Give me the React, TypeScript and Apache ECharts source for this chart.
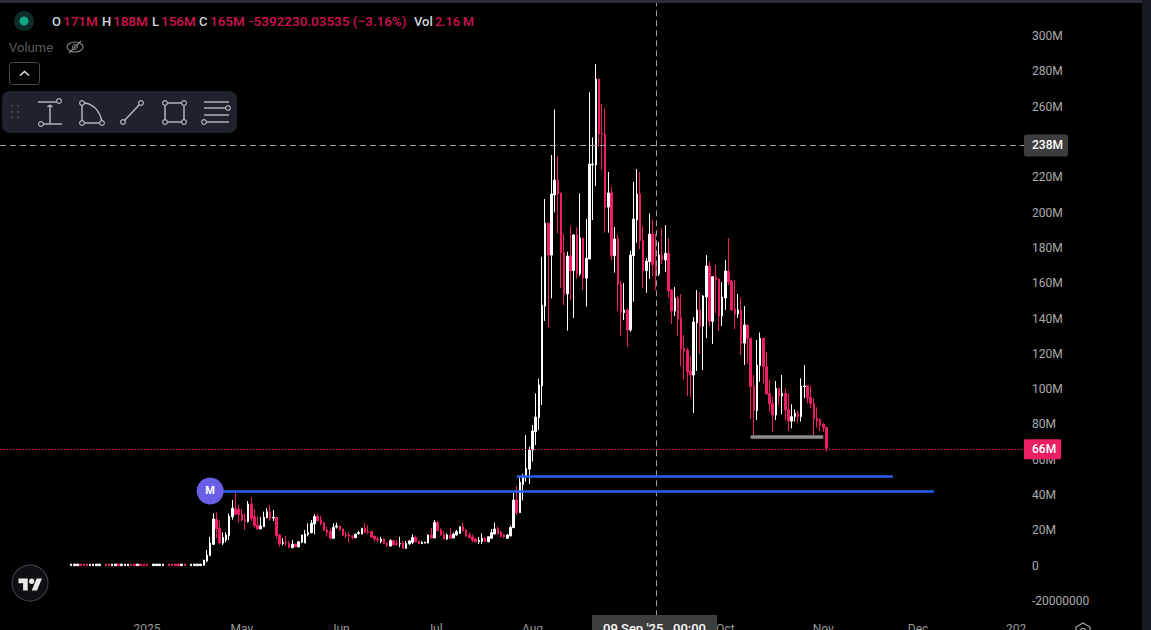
import React, { useEffect, useRef } from "react";
import * as echarts from "echarts";

echarts.graphic.registerShape(
  "tvlogo",
  echarts.graphic.extendPath("M14 25H7V14H0V7h14v18zM28 25h-8l7.5-18h8L28 25zM24 11a4 4 0 1 1-8 0 4 4 0 0 1 8 0z", {})
);

const startDate = Date.UTC(2025, 1, 14);
const dayCount = 324;
const categories: string[] = [];
for (let i = 0; i < dayCount; i++) {
  categories.push(new Date(startDate + i * 86400000).toISOString().slice(0, 10));
}

const tickLabels: Record<string, string> = {
  "2025-04-01": "2025",
  "2025-05-01": "May",
  "2025-06-01": "Jun",
  "2025-07-01": "Jul",
  "2025-08-01": "Aug",
  "2025-10-01": "Oct",
  "2025-11-01": "Nov",
  "2025-12-01": "Dec",
  "2026-01-01": "202",
};

const no = ["-", "-", "-", "-"];
const fu = [0, 0.9, 0, 0.9];
const fd = [0.9, 0, 0, 0.9];

// 22 empty days before trading opens
const leadDays = [no, no, no, no, no, no, no, no, no, no, no, no, no, no, no, no, no, no, no, no, no, no];

const flatCandles = [
  fu, fu, fu, fd, fd, fd, fu, fu, fu, fu, no, fd, fd, fu, fu, fd, fu, fu, fu, fd, fd, fu, fd, fd, fd, no, fu, fu, fu, fu,
  no, fd, fd, fd, fd, fu, fd, no, fu, fu, fu, fu,
];

// [open, close, low, high], millions
const earlyCandles = [
  [0.2, 3.2, 0, 3.2], [2.6, 6, 1.9, 8.9], [5.7, 12.8, 5.7, 16.4], [12.1, 26.4, 11.7, 29.6], [26.4, 20.8, 15.5, 30.2],
  [21.1, 12.8, 12.6, 25.6], [12.8, 16, 11.7, 18.9], [14.5, 17.4, 13.2, 18.9], [17, 28.1, 14.5, 29.6], [27.8, 32.5, 26.1, 37.2],
  [32.1, 29.1, 29.1, 41.1], [32, 29, 24.3, 34.5], [29.1, 25.9, 25.1, 32.1], [26.2, 25.3, 20.2, 29.6], [24.9, 34.9, 24.5, 36.6],
  [34.9, 26.8, 25.3, 38.7], [27.8, 22.7, 21.5, 32], [23, 20.8, 20.2, 27.8], [20.8, 22.5, 20.8, 27.6], [22.1, 27.4, 22.1, 30.6],
  [27.2, 30.6, 26.8, 32.5], [30.6, 26.8, 25.5, 34.2], [27, 27.4, 25.3, 31.5], [27.4, 17, 15.1, 27.4], [17.4, 12.3, 10.8, 17.8],
  [12.6, 13, 11.5, 15.5], [13.2, 12.8, 11.3, 16.8], [12.6, 10.4, 9.8, 14], [10.2, 12.1, 9.8, 14.5], [12.3, 10.8, 10.4, 12.3],
  [10.6, 13.6, 10.6, 13.9], [13.2, 17.4, 12.7, 17.4], [12.8, 17.9, 12.8, 20.2], [17.7, 18.7, 16.6, 24], [18.7, 24, 18.3, 25.9],
  [23.6, 27.8, 17.8, 29.1], [27.8, 25.3, 25.3, 29.4], [25.9, 24, 22.7, 28.3], [24.4, 20, 19.6, 24.4], [20.2, 18.9, 16.4, 22.1],
  [19.3, 15.5, 14.9, 21.1], [15.5, 21.7, 15.1, 24], [21.9, 22.5, 21, 24.4], [22.5, 20.4, 19.6, 22.5], [20.8, 17, 16.8, 21.1],
  [17.4, 16.8, 15.5, 19], [17.4, 16.8, 13.2, 19], [16.4, 15.9, 14.9, 17.4], [15.9, 17.9, 15.5, 17.9], [18.1, 18.7, 17.6, 19.8],
  [17.9, 21.1, 17.9, 21.5],
];

const summerCandles = [
  [21.1, 18.9, 18.3, 24], [19.3, 18.9, 17.9, 22.7], [19.3, 16.2, 16, 19.6], [16.8, 15.1, 13.6, 16.8], [15.1, 14.5, 13.2, 16.4],
  [13.6, 15.1, 12.7, 16.4], [15.1, 12.5, 12.1, 15.5], [12.6, 11.7, 10.6, 13.2], [11.1, 14.2, 11.1, 15.1], [14.2, 11.7, 11.7, 14.2],
  [12.6, 12.1, 11.3, 14.5], [12.3, 12.6, 10.4, 16.4], [13, 9.8, 9.8, 13.9], [9.8, 12.6, 9.8, 13.9], [12.5, 14, 11.7, 14.5],
  [13.2, 15.9, 12.3, 17.8], [15.9, 13.6, 13.2, 17], [14, 12.3, 12.3, 14], [12.5, 13.2, 12.3, 13.9], [12.8, 13.4, 12.7, 13.4],
  [12.8, 17.4, 12.7, 17.8], [17.4, 15.7, 15.5, 21.5], [15.7, 24.4, 15.7, 25.9], [24.4, 19.8, 19.6, 25.3], [20.2, 17.4, 17, 21.1],
  [17.7, 15.1, 15.1, 19.3], [15.1, 17.4, 14.5, 18.3], [17.4, 15.5, 15.5, 21.5], [15.7, 17.9, 15.5, 18.7], [17.4, 19.3, 17, 20.2],
  [18.3, 22.1, 17.9, 22.1], [22.1, 19.8, 19.3, 24.4], [20.2, 16.8, 16.4, 20.6], [17.4, 15.9, 15.5, 18.7], [16.2, 14.5, 13.2, 17.8],
  [15.1, 13.6, 13.2, 15.5], [13.6, 14.3, 12.3, 16.2], [13.8, 15.5, 12.3, 18.3], [15.5, 13.6, 13.2, 16.4], [13.6, 16.4, 13.2, 16.4],
  [15.5, 18.7, 15.5, 20.8], [17.9, 20.8, 17.9, 24.4], [21.1, 18.1, 17.6, 22.1], [19.1, 16.4, 16.2, 19.6], [17.4, 16.2, 15.5, 18],
  [15.5, 17.4, 15.1, 17.9], [16.8, 21.7, 16.8, 22.7], [21.5, 37.2, 21.5, 41.2],
];

const rallyCandles = [
  [37.2, 30, 28.7, 45.1], [30, 47.2, 30, 50], [46, 50, 37, 52], [50.4, 55.1, 47.6, 74], [54.7, 65.5, 46.2, 67.4],
  [65.5, 76.3, 58.9, 79.7], [75.9, 84.2, 68.3, 97.6], [83.8, 102.3, 76.8, 106], [101.8, 147.6, 91, 175], [147, 193.9, 138.6, 207.7],
  [193.9, 175.9, 134.8, 194.4], [175.9, 210.5, 151.4, 232.6], [210, 218.4, 200.1, 258.4], [218.4, 210.5, 188.2, 232],
  [210.9, 177.3, 157.3, 211.4], [177.3, 153.9, 147.6, 187.8], [153.9, 175.4, 133.1, 177.8], [175.4, 167.1, 150.5, 192.4],
  [167.1, 187.3, 140.3, 187.8], [187.3, 165.2, 162.5, 191.6], [165.2, 185.6, 164, 210.9], [185.6, 162.9, 156.1, 185.6],
  [162.9, 174.1, 146.7, 196.3], [173.7, 227.5, 173.7, 268.1], [227, 227.5, 195.8, 242.6], [227, 275.6, 215, 284.1],
  [275.6, 244.5, 237.3, 276], [244.9, 244.5, 224.1, 261.5], [244.5, 203.1, 188.6, 259], [203.1, 211.1, 188.6, 223],
  [211.1, 175.6, 173.1, 214.5], [175.6, 185, 166, 191.8], [185, 159.1, 144.4, 187.3], [159.5, 143.3, 130.3, 161.2],
  [143.3, 144.8, 139.1, 160.1], [144.8, 133.5, 124, 145.7], [133.5, 175.9, 132.5, 178.4], [175.6, 196.3, 149.5, 217.3],
  [195.8, 210.5, 182.9, 224.7], [210.5, 184.1, 179.3, 223], [184.4, 167.1, 157.3, 192.4], [167.1, 172.5, 154.6, 174.1],
  [172.2, 187.8, 162.5, 199.5], [187.8, 170.5, 163.7, 195.8], [171, 165, 156, 188],
];

const declineCandles = [
  [165.2, 175.9, 164, 183.3], [175.9, 173.1, 170.9, 191.2], [173.1, 176.9, 166.3, 192.9], [176.9, 155.6, 151.6, 185.6],
  [156.1, 144.2, 136.9, 156.7], [144.2, 151.6, 141.4, 157.8], [151.6, 139.9, 130.1, 152.7], [140.3, 122.7, 113.1, 153.9],
  [123.1, 121.6, 105.2, 130.6], [122.1, 109.7, 96.1, 123.3], [110.1, 108, 95.5, 118.7], [108, 138, 86.5, 140.8],
  [137.4, 144.8, 110.3, 156.1], [144.8, 135.7, 119.9, 155], [135.7, 152.7, 110.8, 153.3], [152.2, 169.7, 128.9, 175.9],
  [169.7, 138.4, 135.7, 172], [138.4, 163.7, 125.5, 164], [163.5, 161.8, 143.1, 170.3], [162.4, 141.4, 132.9, 162.4],
  [141.4, 152.2, 135.7, 160.7], [151.6, 166.9, 144.8, 173.1], [166.9, 160.7, 159, 185.6], [161.2, 144.8, 144.8, 161.8],
  [145.4, 142.5, 134, 161.8], [142.5, 144.8, 140.3, 153.9], [144.8, 126.1, 119.3, 151.6], [126.1, 136.3, 113.7, 147.1],
  [136.3, 128.8, 114.6, 136.3], [128.8, 101.4, 83.1, 128.8], [101.8, 87.8, 74, 108], [87.8, 113.6, 82.5, 127.8],
  [113.3, 128.8, 104.2, 132.1], [128.8, 112.7, 103.3, 129.1], [112.7, 97.2, 97.2, 121.2], [97.6, 91.9, 87.2, 105.5],
  [91.9, 85.3, 75.9, 95.7], [85.3, 100.4, 82.5, 104.6], [100.4, 96.1, 91, 100.4], [96.1, 97.6, 85.7, 108],
  [97.6, 88.2, 82.5, 100.4], [88.5, 81.9, 76.3, 97.6], [81.9, 84.4, 77.8, 91.4], [84.4, 86.3, 81.6, 88.5],
  [86.3, 84.4, 81.2, 87.8], [84.4, 101.8, 81.6, 106.1], [101.4, 101.8, 94.8, 113.6], [101.9, 95.1, 91.9, 102.3],
  [95.3, 91.9, 89.1, 101.9], [91.9, 83.3, 74, 94.8], [83.6, 81.9, 78.2, 89.7], [82.5, 79.7, 76.3, 83.4],
  [80.2, 78.3, 75.9, 80.6], [78.3, 66.5, 64.6, 78.7],
];

const crosshairDate = "2025-09-09";
const crosshairPrice = 238;
const lastPrice = 66;
const trendA = { from: "2025-04-21", to: "2025-12-06", level: 42.3 };
const trendB = { from: "2025-07-27", to: "2025-11-23", level: 50.8 };
const supportLine = { from: "2025-10-09", to: "2025-11-01", level: 73.2 };

const UP = "#ffffff";
const DOWN = "#f01f64";
const BLUE = "#2962f0";
const LABEL_RED = "#d0134f";
const LABEL_GREY = "#d1d4dc";
const FONT = "Roboto, Inter, sans-serif";

const ohlcLabels: [string, number, string, number][] = [
  ["O", 52, LABEL_GREY, 13], ["171M", 63, LABEL_RED, 13.5], ["H", 102, LABEL_GREY, 13], ["188M", 113, LABEL_RED, 13.5],
  ["L", 152, LABEL_GREY, 13], ["156M", 161, LABEL_RED, 13.5], ["C", 199, LABEL_GREY, 13], ["165M", 210, LABEL_RED, 13.5],
  ["-5392230.03535 (−3.16%)", 249, LABEL_RED, 13.5], ["Vol", 414, LABEL_GREY, 13], ["2.16 M", 435, LABEL_RED, 12.5],
];

const ICON = "#b8bcc6";
const iconLine = (x1: number, y1: number, x2: number, y2: number) => ({
  type: "line", z: 60, shape: { x1, y1, x2, y2 }, style: { stroke: ICON, lineWidth: 1.4 }, silent: true,
});
const iconDot = (cx: number, cy: number) => ({
  type: "circle", z: 61, shape: { cx, cy, r: 2.4 }, style: { fill: "#1e222d", stroke: ICON, lineWidth: 1.1 }, silent: true,
});
const gripDot = (cx: number, cy: number) => ({
  type: "circle", z: 60, shape: { cx, cy, r: 0.9 }, style: { fill: "#50535e" }, silent: true,
});

const graphics: any[] = [
  { type: "rect", z: 50, shape: { x: 0, y: 0, width: 1151, height: 3 }, style: { fill: "#2a2e39" } },
  { type: "rect", z: 50, shape: { x: 1142, y: 0, width: 9, height: 660 }, style: { fill: "#171a21" } },
  { type: "circle", z: 60, shape: { cx: 24, cy: 21, r: 10 }, style: { fill: "#0d2b27" } },
  { type: "circle", z: 61, shape: { cx: 24, cy: 21, r: 4.5 }, style: { fill: "#0fa886" } },
  ...ohlcLabels.map(([text, x, fill, size]) => ({
    type: "text", z: 60, x, y: 21,
    style: { text, fill, font: `500 ${size}px ${FONT}`, textVerticalAlign: "middle", textAlign: "left" },
  })),
  { type: "text", z: 60, x: 9, y: 47, style: { text: "Volume", fill: "#5a5a5a", font: `13px ${FONT}`, textVerticalAlign: "middle" } },
  { type: "ellipse", z: 60, shape: { cx: 75, cy: 47, rx: 8, ry: 5 }, style: { fill: "none", stroke: "#8a8a8a", lineWidth: 1.1 } },
  { type: "circle", z: 60, shape: { cx: 75, cy: 47, r: 2.4 }, style: { fill: "none", stroke: "#8a8a8a", lineWidth: 1 } },
  { type: "line", z: 60, shape: { x1: 69, y1: 53, x2: 81, y2: 41 }, style: { stroke: "#8a8a8a", lineWidth: 1.1 } },
  { type: "rect", z: 60, shape: { x: 9.5, y: 62.5, width: 30, height: 22, r: 3 }, style: { fill: "#000", stroke: "#4a4a4a", lineWidth: 1 } },
  { type: "polyline", z: 61, shape: { points: [[20, 75.5], [24.5, 71.5], [29, 75.5]] }, style: { fill: "none", stroke: "#e6e6e6", lineWidth: 1.5 } },
  { type: "rect", z: 59, shape: { x: 2, y: 91, width: 235, height: 42, r: 8 }, style: { fill: "#1e222d" } },
  gripDot(12, 106), gripDot(18, 106), gripDot(12, 112), gripDot(18, 112), gripDot(12, 117), gripDot(18, 117),
  iconLine(38, 102, 57, 102), iconDot(59, 101), iconLine(50, 105, 50, 124), iconLine(47.5, 107, 50, 105), iconLine(52.5, 107, 50, 105),
  iconLine(43, 124, 62, 124), iconDot(41, 124),
  iconLine(82, 104, 82, 122), iconLine(83, 123, 101, 123),
  { type: "bezierCurve", z: 60, shape: { x1: 83, y1: 103, cpx1: 93, cpy1: 103, cpx2: 100, cpy2: 111, x2: 102, y2: 122 }, style: { fill: "none", stroke: ICON, lineWidth: 1.4 } },
  iconDot(82, 103), iconDot(82, 123), iconDot(102, 123),
  iconLine(124, 121, 140, 104), iconDot(123, 122), iconDot(141, 103),
  iconLine(165, 103, 184, 103), iconLine(165, 122, 184, 122), iconLine(165, 103, 165, 122), iconLine(184, 103, 184, 122),
  iconDot(165, 103), iconDot(184, 103), iconDot(165, 122), iconDot(184, 122),
  iconLine(204, 102, 229, 102), iconLine(204, 108, 226, 108), iconDot(228, 108), iconLine(204, 115, 229, 115),
  iconLine(207, 122, 229, 122), iconDot(204, 122),
  { type: "rect", z: 70, shape: { x: 592, y: 615, width: 125, height: 45 }, style: { fill: "#3d3d3d" } },
  { type: "text", z: 71, x: 654.5, y: 622, style: { text: "09 Sep '25   00:00", fill: "#ffffff", font: `500 13px ${FONT}`, textAlign: "center", textVerticalAlign: "top" } },
  { type: "circle", z: 60, shape: { cx: 30, cy: 583, r: 18 }, style: { fill: "#0e0f12", stroke: "#3a3d45", lineWidth: 1.2 } },
  { type: "tvlogo", z: 61, x: 18.5, y: 574, scaleX: 0.66, scaleY: 0.66, style: { fill: "#e8e8e8" } },
  {
    type: "polygon", z: 60,
    shape: { points: [[1083, 623], [1090, 627], [1090, 635], [1083, 639], [1076, 635], [1076, 627]] },
    style: { fill: "none", stroke: "#a8a8a8", lineWidth: 1.2 },
  },
  { type: "circle", z: 60, shape: { cx: 1083, cy: 631, r: 2.5 }, style: { fill: "none", stroke: "#a8a8a8", lineWidth: 1.2 } },
];

const segment = (seg: { from: string; to: string; level: number }, color: string, width: number) => [
  { coord: [seg.from, seg.level], lineStyle: { color, width, type: "solid", opacity: 1 }, label: { show: false } },
  { coord: [seg.to, seg.level], lineStyle: { color, width, type: "solid", opacity: 1 }, label: { show: false } },
];

export default function App() {
  const ref = useRef<HTMLDivElement>(null);
  useEffect(() => {
    const chart = echarts.init(ref.current!, null, { renderer: "svg" });
    chart.setOption({
      animation: false,
      backgroundColor: "#000000",
      grid: { left: 0, top: 0.7, width: 1024, height: 635.6, containLabel: false },
      xAxis: {
        type: "category",
        data: categories,
        boundaryGap: true,
        offset: -13,
        axisLine: { show: false },
        axisTick: { show: false },
        splitLine: { show: false },
        axisLabel: {
          margin: 0,
          color: "#9a9a9a",
          fontFamily: FONT,
          fontSize: 12,
          verticalAlign: "top",
          interval: (_i: number, v: string) => !!tickLabels[v],
          formatter: (v: string) => tickLabels[v] || "",
        },
      },
      yAxis: {
        type: "value",
        position: "right",
        min: -40,
        max: 320,
        interval: 20,
        axisLine: { show: false },
        axisTick: { show: false },
        splitLine: { show: false },
        axisLabel: {
          margin: 8,
          color: "#ababab",
          fontFamily: FONT,
          fontSize: 12,
          align: "left",
          formatter: (v: number) => {
            if (v === -40 || v === 320) return "";
            if (v === 0) return "0";
            if (v === -20) return "-20000000";
            return `${v}M`;
          },
        },
      },
      series: [
        {
          type: "candlestick",
          data: [...leadDays, ...flatCandles, ...earlyCandles, ...summerCandles, ...rallyCandles, ...declineCandles],
          barWidth: 2,
          itemStyle: { color: UP, color0: DOWN, borderColor: UP, borderColor0: DOWN, borderWidth: 1 },
          silent: true,
          markLine: {
            silent: true,
            symbol: "none",
            animation: false,
            label: { show: false },
            data: [
              { xAxis: crosshairDate, lineStyle: { color: "#9e9e9e", width: 1, type: [6, 4] }, label: { show: false } },
              {
                yAxis: crosshairPrice,
                lineStyle: { color: "#9e9e9e", width: 1, type: [6, 4] },
                label: {
                  show: true, position: "end", distance: 0, formatter: "238M", color: "#ffffff",
                  fontFamily: FONT, fontSize: 12, fontWeight: 500, backgroundColor: "#3d3d3d", padding: [5, 5, 5, 8], borderRadius: 2,
                },
              },
              {
                yAxis: lastPrice,
                lineStyle: { color: "#ff1f6b", width: 1.2, type: [1.5, 1.7] },
                label: {
                  show: true, position: "end", distance: 0, formatter: "66M", color: "#ffffff",
                  fontFamily: FONT, fontSize: 12, fontWeight: 500, backgroundColor: "#e91e63", padding: [4, 5, 4, 8], borderRadius: 1,
                },
              },
              segment(trendA, BLUE, 2.5),
              segment(trendB, BLUE, 2.5),
              segment(supportLine, "#8c8c8c", 3.5),
            ],
          },
          markPoint: {
            silent: true,
            animation: false,
            data: [
              {
                coord: [trendA.from, trendA.level],
                symbol: "circle",
                symbolSize: 27,
                itemStyle: { color: "#6a5de6" },
                label: { show: true, formatter: "M", color: "#ffffff", fontFamily: FONT, fontSize: 11, fontWeight: 700 },
              },
            ],
          },
        },
      ],
      graphic: { elements: graphics },
    });
    return () => chart.dispose();
  }, []);
  return (
    <div style={{ position: "fixed", left: 0, top: 0, width: 1151, height: 630, overflow: "hidden" }}>
      <div ref={ref} style={{ width: 1151, height: 660 }} />
    </div>
  );
}
